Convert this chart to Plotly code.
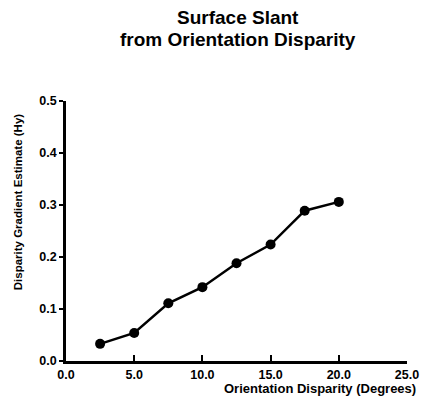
import plotly.graph_objects as go

x_deg = [2.5, 5.0, 7.5, 10.0, 12.5, 15.0, 17.5, 20.0]
y_est = [0.033, 0.054, 0.111, 0.142, 0.188, 0.224, 0.289, 0.306]
x_ticks = [0, 5, 10, 15, 20, 25]
x_ticklabels = ["0.0", "5.0", "10.0", "15.0", "20.0", "25.0"]
y_ticks = [0, 0.1, 0.2, 0.3, 0.4, 0.5]
y_ticklabels = ["0.0", "0.1", "0.2", "0.3", "0.4", "0.5"]

FONT = "Liberation Sans, Arial, sans-serif"

fig = go.Figure()
fig.add_trace(go.Scatter(
    x=x_deg, y=y_est, mode="lines+markers",
    line=dict(color="black", width=2.5),
    marker=dict(color="black", size=10),
    cliponaxis=False, showlegend=False,
))

fig.update_layout(
    width=431, height=400,
    margin=dict(l=66, r=15, t=101, b=39),
    paper_bgcolor="white", plot_bgcolor="white",
    font=dict(family=FONT, color="black"),
    xaxis=dict(
        range=[0, 25], tickvals=x_ticks, ticktext=x_ticklabels,
        showgrid=False, zeroline=False, showline=True, linecolor="black", linewidth=2.5,
        ticks="inside", ticklen=6, tickwidth=1.5, tickcolor="black",
        tickfont=dict(family=FONT, size=12.5, color="black", weight="bold"),
    ),
    yaxis=dict(
        range=[0, 0.5], tickvals=y_ticks, ticktext=y_ticklabels,
        showgrid=False, zeroline=False, showline=True, linecolor="black", linewidth=2.5,
        ticks="outside", ticklen=4, tickwidth=1.5, tickcolor="black",
        tickfont=dict(family=FONT, size=12.5, color="black", weight="bold"),
    ),
    annotations=[
        dict(text="<b>Surface Slant</b>", xref="paper", yref="paper",
             x=0.503, y=1 + (101 - 17) / 260, showarrow=False,
             font=dict(family=FONT, size=19, color="black"), yanchor="middle", xanchor="center"),
        dict(text="<b>from Orientation Disparity</b>", xref="paper", yref="paper",
             x=0.503, y=1 + (101 - 40) / 260, showarrow=False,
             font=dict(family=FONT, size=19, color="black"), yanchor="middle", xanchor="center"),
        dict(text="<b>Orientation Disparity (Degrees)</b>", xref="paper", yref="paper",
             x=(327 - 66) / 350, y=-(388 - 361) / 260, showarrow=False,
             font=dict(family=FONT, size=13, color="black"), yanchor="middle", xanchor="center"),
        dict(text="<b>Disparity Gradient Estimate (Hy)</b>", xref="paper", yref="paper",
             x=-(66 - 17) / 350, y=(361 - 202) / 260, showarrow=False, textangle=-90,
             font=dict(family=FONT, size=11.5, color="black"), yanchor="middle", xanchor="center"),
    ],
)

fig.write_html("out.html")
